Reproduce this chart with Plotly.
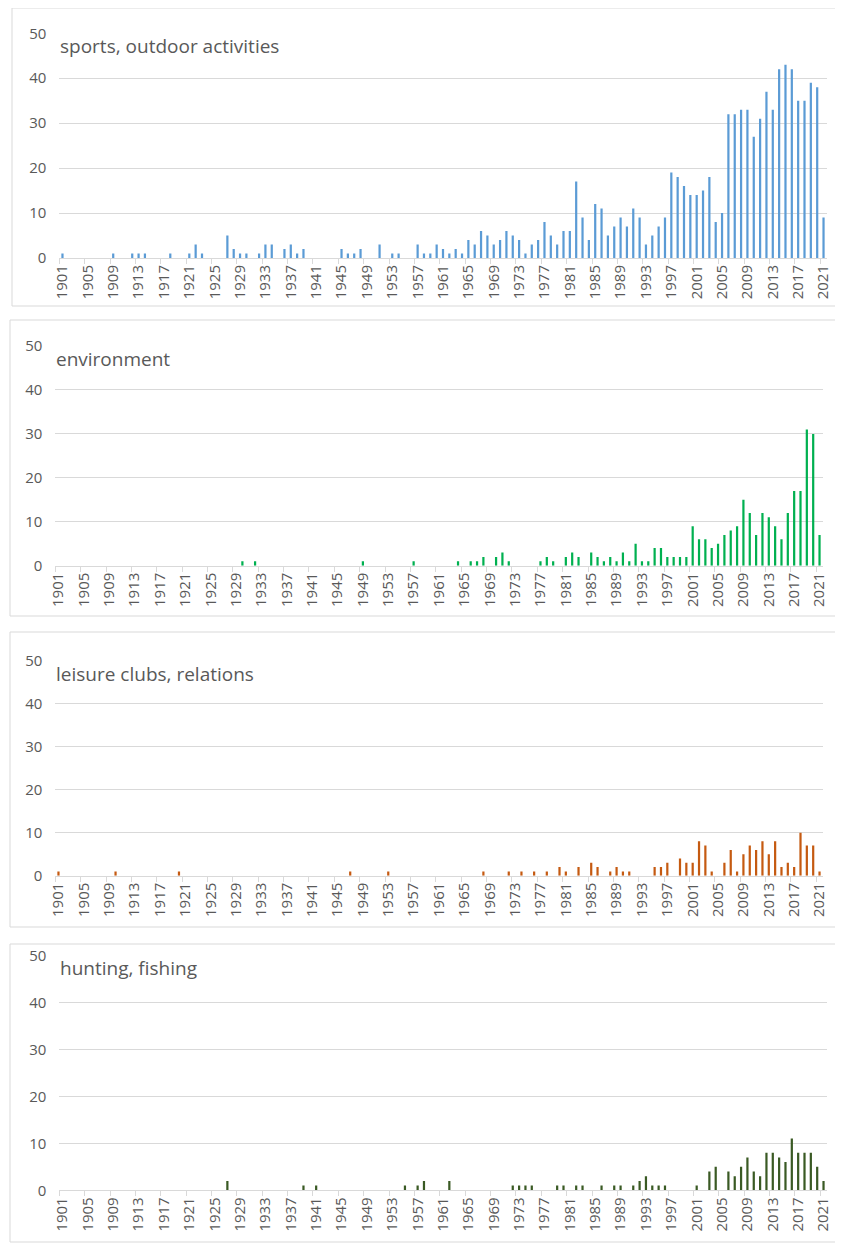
import plotly.graph_objects as go

years = [str(y) for y in range(1901, 2022)]

sports = [
    1, 0, 0, 0, 0, 0, 0, 0, 1, 0,
    0, 1, 1, 1, 0, 0, 0, 1, 0, 0,
    1, 3, 1, 0, 0, 0, 5, 2, 1, 1,
    0, 1, 3, 3, 0, 2, 3, 1, 2, 0,
    0, 0, 0, 0, 2, 1, 1, 2, 0, 0,
    3, 0, 1, 1, 0, 0, 3, 1, 1, 3,
    2, 1, 2, 1, 4, 3, 6, 5, 3, 4,
    6, 5, 4, 1, 3, 4, 8, 5, 3, 6,
    6, 17, 9, 4, 12, 11, 5, 7, 9, 7,
    11, 9, 3, 5, 7, 9, 19, 18, 16, 14,
    14, 15, 18, 8, 10, 32, 32, 33, 33, 27,
    31, 37, 33, 42, 43, 42, 35, 35, 39, 38,
    9,
]

environment = [
    0, 0, 0, 0, 0, 0, 0, 0, 0, 0,
    0, 0, 0, 0, 0, 0, 0, 0, 0, 0,
    0, 0, 0, 0, 0, 0, 0, 0, 0, 1,
    0, 1, 0, 0, 0, 0, 0, 0, 0, 0,
    0, 0, 0, 0, 0, 0, 0, 0, 1, 0,
    0, 0, 0, 0, 0, 0, 1, 0, 0, 0,
    0, 0, 0, 1, 0, 1, 1, 2, 0, 2,
    3, 1, 0, 0, 0, 0, 1, 2, 1, 0,
    2, 3, 2, 0, 3, 2, 1, 2, 1, 3,
    1, 5, 1, 1, 4, 4, 2, 2, 2, 2,
    9, 6, 6, 4, 5, 7, 8, 9, 15, 12,
    7, 12, 11, 9, 6, 12, 17, 17, 31, 30,
    7,
]

leisure = [
    1, 0, 0, 0, 0, 0, 0, 0, 0, 1,
    0, 0, 0, 0, 0, 0, 0, 0, 0, 1,
    0, 0, 0, 0, 0, 0, 0, 0, 0, 0,
    0, 0, 0, 0, 0, 0, 0, 0, 0, 0,
    0, 0, 0, 0, 0, 0, 1, 0, 0, 0,
    0, 0, 1, 0, 0, 0, 0, 0, 0, 0,
    0, 0, 0, 0, 0, 0, 0, 1, 0, 0,
    0, 1, 0, 1, 0, 1, 0, 1, 0, 2,
    1, 0, 2, 0, 3, 2, 0, 1, 2, 1,
    1, 0, 0, 0, 2, 2, 3, 0, 4, 3,
    3, 8, 7, 1, 0, 3, 6, 1, 5, 7,
    6, 8, 5, 8, 2, 3, 2, 10, 7, 7,
    1,
]

hunting = [
    0, 0, 0, 0, 0, 0, 0, 0, 0, 0,
    0, 0, 0, 0, 0, 0, 0, 0, 0, 0,
    0, 0, 0, 0, 0, 0, 2, 0, 0, 0,
    0, 0, 0, 0, 0, 0, 0, 0, 1, 0,
    1, 0, 0, 0, 0, 0, 0, 0, 0, 0,
    0, 0, 0, 0, 1, 0, 1, 2, 0, 0,
    0, 2, 0, 0, 0, 0, 0, 0, 0, 0,
    0, 1, 1, 1, 1, 0, 0, 0, 1, 1,
    0, 1, 1, 0, 0, 1, 0, 1, 1, 0,
    1, 2, 3, 1, 1, 1, 0, 0, 0, 0,
    1, 0, 4, 5, 0, 4, 3, 5, 7, 4,
    3, 8, 8, 7, 6, 11, 8, 8, 8, 5,
    2,
]

titles = ["sports, outdoor activities", "environment",
          "leisure clubs, relations", "hunting, fishing"]
series = [sports, environment, leisure, hunting]
colors = ["#5B9BD5", "#00B050", "#C55A11", "#3A5A24"]

W, H = 843, 1245
OFF = 8  # page body margin

# pixel geometry of each panel: plot x0, x1, y(50), y(0), box (l, t, r, b)
panels = [
    dict(x0=59.3, x1=826.7, ytop=33.3, ybot=258.0, box=(12, 8, 838, 306)),
    dict(x0=55.3, x1=822.7, ytop=346.0, ybot=565.7, box=(10, 320, 838, 616)),
    dict(x0=55.3, x1=822.7, ytop=660.7, ybot=875.7, box=(10, 632, 838, 927)),
    dict(x0=59.3, x1=826.7, ytop=955.3, ybot=1190.3, box=(10, 944, 838, 1242)),
]


def px_x(v):
    return (v - OFF) / W


def px_y(v):
    return 1 - (v - OFF) / H


fig = go.Figure()
shapes = []
annotations = []
layout_axes = {}

for i, (p, vals, col, ttl) in enumerate(zip(panels, series, colors, titles)):
    n = "" if i == 0 else str(i + 1)
    fig.add_trace(go.Bar(
        x=years, y=vals, marker=dict(color=col, line=dict(width=0)),
        xaxis="x" + n, yaxis="y" + n, showlegend=False,
    ))
    layout_axes["xaxis" + n] = dict(
        type="category", domain=[px_x(p["x0"]), px_x(p["x1"])],
        anchor="y" + n, range=[-0.5, len(years) - 0.5],
        tickmode="linear", tick0=0, dtick=4, tickson="boundaries",
        ticks="outside", ticklen=5, tickcolor="#d9d9d9", tickwidth=1,
        showline=True, linecolor="#d9d9d9", linewidth=1,
        showgrid=False, tickangle=-90, automargin=False,
        tickfont=dict(family="Open Sans", size=15, color="#595959"),
        fixedrange=True,
    )
    layout_axes["yaxis" + n] = dict(
        domain=[px_y(p["ybot"]), px_y(p["ytop"])], anchor="x" + n,
        range=[0, 50], tickmode="linear", tick0=0, dtick=10,
        showgrid=True, gridcolor="#d9d9d9", gridwidth=1,
        zeroline=False, showline=False, ticks="",
        ticklabelstandoff=12, automargin=False,
        tickfont=dict(family="Open Sans", size=15, color="#595959"),
        fixedrange=True,
    )
    l, t, r, b = p["box"]
    shapes.append(dict(type="rect", xref="paper", yref="paper",
                       x0=px_x(l), x1=px_x(r), y0=px_y(b), y1=px_y(t),
                       line=dict(color="#d9d9d9", width=1), layer="below"))
    annotations.append(dict(
        text=ttl, xref="paper", yref="paper",
        x=px_x(p["x0"] - 1), y=px_y(p["ytop"] + 13),
        xanchor="left", yanchor="middle", showarrow=False,
        font=dict(family="Open Sans", size=19, color="#595959"),
    ))

fig.update_layout(
    width=W, height=H,
    margin=dict(l=0, r=0, t=0, b=0, pad=0, autoexpand=False),
    paper_bgcolor="white", plot_bgcolor="white",
    bargap=0.65, shapes=shapes, annotations=annotations,
    **layout_axes,
)

fig.write_html("out.html")
